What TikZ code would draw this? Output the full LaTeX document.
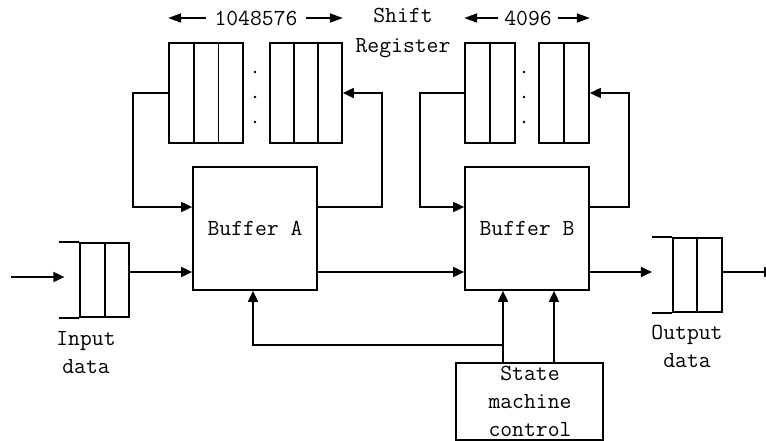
\documentclass[tikz,border=0pt]{standalone}
\usetikzlibrary{arrows.meta}
\tikzset{
  blk/.style={draw, minimum width=124pt, minimum height=123pt, inner sep=0pt},
  cell/.style={draw, minimum width=24.7pt, minimum height=100pt, inner sep=0pt},
  tip/.style={-{Triangle[length=11pt,width=10pt]}},
  widetip/.style={-{Triangle[length=13pt,width=9pt]}},
  lbl/.style={font=\fontsize{23}{28}\selectfont\ttfamily, align=center}
}
\begin{document}
\begin{tikzpicture}[x=1pt,y=-1pt,line width=1.7pt]
    \useasboundingbox (0,0) rectangle (766,441);
    % buffers
    \node [blk,lbl] (bufA) at (255,228.5) {Buffer A};
    \node [blk,lbl] (bufB) at (527,228.5) {Buffer B};
    % shift register cells
    \foreach \i in {0,1,2} {
        \node [cell] (a\i) at (181.3+24.7*\i,93) {};
        \node [cell,minimum width=24pt] (c\i) at (282+24*\i,93) {};
    }
    \foreach \i in {0,1} {
        \node [cell,minimum width=25pt] (b\i) at (477.5+25*\i,93) {};
        \node [cell,minimum width=25pt] (d\i) at (551.5+25*\i,93) {};
    }
    \foreach \y in {72,97,122} {
        \fill (255,\y) circle (1.4);
        \fill (524,\y) circle (1.4);
    }
    % lengths
    \node [lbl,inner sep=8pt] (lenA) at (256,18) {1048576};
    \draw [widetip] (lenA.west) -- (a0.west |- lenA.west);
    \draw [widetip] (lenA.east) -- (c2.east |- lenA.east);
    \node [lbl,inner sep=5pt] (lenB) at (528,18) {4096};
    \draw [widetip] (lenB.west) -- (b0.west |- lenB.west);
    \draw [widetip] (lenB.east) -- (d1.east |- lenB.east);
    \node [lbl] (sreg) at (403,33) {Shift\\[2pt]Register};
    % feedback loops
    \draw [tip] (a0.west) -- ++(-35,0) |- ([yshift=21.5pt]bufA.west);
    \draw [tip] ([yshift=21.5pt]bufA.east) -- ++(64,0) |- (c2.east);
    \draw [tip] (b0.west) -- ++(-44,0) |- ([yshift=21.5pt]bufB.west);
    \draw [tip] ([yshift=21.5pt]bufB.east) -- ++(39,0) |- (d1.east);
    % input register
    \foreach \i in {0,1} \node [cell,minimum width=24.5pt,minimum height=74pt] (in\i) at (92.5+24.5*\i,280) {};
    \draw (in0.north west) -- ++(-20,0);
    \draw (in0.south west) -- ++(-20,0);
    \coordinate (src) at (11,277);
    \draw [tip] (src) -- ([xshift=-15pt,yshift=3pt]in0.west);
    \draw [tip] ([yshift=8pt]in1.east) -- ([yshift=-43.5pt]bufA.west);
    \node [lbl] (inl) at (86,353) {Input\\data};
    % data path
    \draw [tip] ([yshift=-43.5pt]bufA.east) -- ([yshift=-43.5pt]bufB.west);
    % output register
    \foreach \i in {0,1} \node [cell,minimum width=24.5pt,minimum height=74pt] (out\i) at (685+24.5*\i,275) {};
    \draw (out0.north west) -- ++(-20,0);
    \draw (out0.south west) -- ++(-20,0);
    \draw [tip] ([yshift=-43.5pt]bufB.east) -- ([xshift=-20pt,yshift=3pt]out0.west);
    \coordinate (sink) at (775,272);
    \draw [tip] ([yshift=3pt]out1.east) -- (sink);
    \node [lbl] (outl) at (687,346) {Output\\data};
    % state machine
    \node [draw,minimum width=147pt,minimum height=77pt] (fsm) at (529.5,401.5) {};
    \node [lbl] (fsmt) at (530,401) {State\\machine\\control};
    \coordinate (ctlA) at ([xshift=-26.5pt]fsm.north);
    \coordinate (ctlB) at ([xshift=24.5pt]fsm.north);
    \draw [tip] (ctlA) -- (ctlA |- bufB.south);
    \draw [tip] (ctlB) -- (ctlB |- bufB.south);
    \draw [tip] ([yshift=17pt]ctlA) -| ([xshift=-2pt]bufA.south);
\end{tikzpicture}
\end{document}
